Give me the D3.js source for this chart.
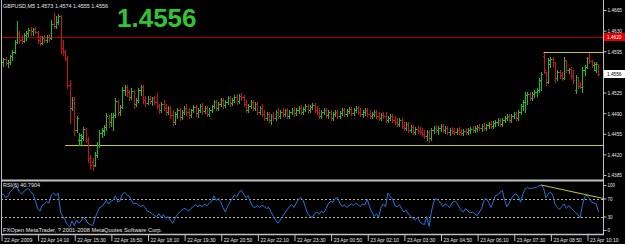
<!DOCTYPE html>
<html>
<head>
<meta charset="utf-8">
<script src="https://cdn.jsdelivr.net/npm/d3@7"></script>
<style>
  body { margin: 0; background: #000; }
  svg { display: block; }
  text { font-family: "Liberation Sans", Arial, sans-serif; }
</style>
</head>
<body>
<svg id="chart" width="625" height="244"></svg>
<script>
// GBPUSD M5 bars, 22 Apr 2009 12:50 -> 23 Apr 2009 10:35 (one entry per bar)
var opens = [
  1.4580,1.4577,1.4582,1.4575,1.4577,1.4587,1.4594,1.4611,1.4626,1.4614,
  1.4612,1.4623,1.4626,1.4631,1.4629,1.4633,1.4628,1.4614,1.4609,1.4618,
  1.4614,1.4619,1.4618,1.4641,1.4638,1.4645,1.4655,1.4601,1.4594,1.4584,
  1.4538,1.4499,1.4512,1.4461,1.4444,1.4444,1.4448,1.4463,1.4444,1.4414,
  1.4407,1.4402,1.4419,1.4436,1.4456,1.4460,1.4467,1.4482,1.4475,1.4483,
  1.4487,1.4511,1.4492,1.4500,1.4529,1.4534,1.4526,1.4517,1.4528,1.4506,
  1.4512,1.4529,1.4534,1.4512,1.4507,1.4514,1.4511,1.4516,1.4509,1.4502,
  1.4495,1.4506,1.4499,1.4492,1.4499,1.4487,1.4475,1.4489,1.4495,1.4483,
  1.4492,1.4499,1.4492,1.4487,1.4495,1.4500,1.4490,1.4495,1.4502,1.4494,
  1.4499,1.4489,1.4495,1.4502,1.4509,1.4499,1.4506,1.4512,1.4504,1.4509,
  1.4516,1.4507,1.4512,1.4517,1.4511,1.4519,1.4517,1.4506,1.4495,1.4502,
  1.4509,1.4499,1.4506,1.4492,1.4499,1.4489,1.4482,1.4489,1.4478,1.4485,
  1.4482,1.4492,1.4485,1.4492,1.4489,1.4495,1.4485,1.4492,1.4495,1.4490,
  1.4495,1.4499,1.4492,1.4497,1.4502,1.4495,1.4500,1.4504,1.4495,1.4492,
  1.4485,1.4492,1.4495,1.4487,1.4492,1.4482,1.4489,1.4492,1.4485,1.4490,
  1.4495,1.4489,1.4494,1.4497,1.4490,1.4495,1.4499,1.4492,1.4489,1.4492,
  1.4495,1.4489,1.4485,1.4489,1.4492,1.4485,1.4482,1.4487,1.4485,1.4478,
  1.4482,1.4485,1.4478,1.4475,1.4472,1.4478,1.4468,1.4465,1.4472,1.4461,
  1.4467,1.4458,1.4463,1.4460,1.4458,1.4455,1.4451,1.4458,1.4448,1.4461,
  1.4465,1.4461,1.4465,1.4468,1.4461,1.4465,1.4458,1.4461,1.4460,1.4458,
  1.4461,1.4458,1.4456,1.4460,1.4458,1.4461,1.4463,1.4461,1.4465,1.4467,
  1.4465,1.4468,1.4465,1.4470,1.4472,1.4468,1.4473,1.4475,1.4478,1.4472,
  1.4478,1.4482,1.4485,1.4478,1.4485,1.4489,1.4482,1.4492,1.4502,1.4509,
  1.4521,1.4523,1.4516,1.4523,1.4526,1.4529,1.4546,1.4587,1.4560,1.4543,
  1.4573,1.4582,1.4577,1.4550,1.4560,1.4555,1.4550,1.4580,1.4563,1.4565,
  1.4553,1.4529,1.4551,1.4536,1.4534,1.4563,1.4568,1.4584,1.4578,1.4572,
  1.4563,1.4573
];
var highs = [
  1.4585,1.4584,1.4585,1.4580,1.4589,1.4597,1.4614,1.4646,1.4629,1.4623,
  1.4626,1.4629,1.4635,1.4636,1.4635,1.4636,1.4629,1.4621,1.4621,1.4623,
  1.4623,1.4624,1.4648,1.4660,1.4655,1.4658,1.4657,1.4614,1.4597,1.4587,
  1.4546,1.4517,1.4517,1.4485,1.4456,1.4455,1.4467,1.4465,1.4450,1.4419,
  1.4414,1.4424,1.4441,1.4461,1.4465,1.4470,1.4490,1.4487,1.4490,1.4490,
  1.4516,1.4512,1.4504,1.4534,1.4538,1.4538,1.4529,1.4533,1.4529,1.4516,
  1.4533,1.4538,1.4538,1.4519,1.4519,1.4519,1.4517,1.4519,1.4524,1.4506,
  1.4509,1.4512,1.4506,1.4502,1.4502,1.4495,1.4492,1.4499,1.4499,1.4495,
  1.4502,1.4506,1.4499,1.4497,1.4504,1.4504,1.4499,1.4506,1.4507,1.4502,
  1.4502,1.4499,1.4504,1.4512,1.4512,1.4509,1.4516,1.4516,1.4512,1.4519,
  1.4519,1.4516,1.4521,1.4523,1.4523,1.4524,1.4521,1.4512,1.4506,1.4512,
  1.4512,1.4509,1.4509,1.4502,1.4506,1.4495,1.4492,1.4492,1.4489,1.4492,
  1.4495,1.4499,1.4495,1.4499,1.4497,1.4499,1.4495,1.4499,1.4500,1.4499,
  1.4502,1.4504,1.4500,1.4506,1.4506,1.4504,1.4507,1.4507,1.4502,1.4499,
  1.4495,1.4499,1.4499,1.4495,1.4495,1.4492,1.4495,1.4495,1.4494,1.4499,
  1.4499,1.4497,1.4500,1.4500,1.4499,1.4502,1.4502,1.4499,1.4495,1.4499,
  1.4499,1.4495,1.4492,1.4495,1.4495,1.4492,1.4490,1.4492,1.4492,1.4485,
  1.4489,1.4489,1.4485,1.4482,1.4482,1.4482,1.4475,1.4475,1.4475,1.4470,
  1.4470,1.4467,1.4468,1.4467,1.4465,1.4461,1.4461,1.4461,1.4465,1.4468,
  1.4470,1.4468,1.4472,1.4472,1.4468,1.4468,1.4465,1.4467,1.4465,1.4465,
  1.4467,1.4463,1.4463,1.4465,1.4465,1.4467,1.4468,1.4468,1.4470,1.4472,
  1.4472,1.4473,1.4472,1.4475,1.4477,1.4477,1.4478,1.4482,1.4482,1.4482,
  1.4485,1.4489,1.4489,1.4489,1.4492,1.4492,1.4495,1.4506,1.4512,1.4526,
  1.4526,1.4526,1.4526,1.4529,1.4533,1.4550,1.4560,1.4592,1.4560,1.4584,
  1.4585,1.4585,1.4577,1.4563,1.4563,1.4560,1.4585,1.4580,1.4567,1.4568,
  1.4563,1.4555,1.4551,1.4543,1.4568,1.4572,1.4585,1.4592,1.4580,1.4577,
  1.4577,1.4574
];
var lows = [
  1.4573,1.4570,1.4572,1.4568,1.4573,1.4580,1.4592,1.4609,1.4609,1.4609,
  1.4611,1.4614,1.4621,1.4623,1.4623,1.4626,1.4609,1.4606,1.4607,1.4611,
  1.4611,1.4612,1.4616,1.4635,1.4635,1.4641,1.4592,1.4589,1.4580,1.4533,
  1.4473,1.4495,1.4453,1.4458,1.4436,1.4436,1.4444,1.4441,1.4407,1.4397,
  1.4394,1.4400,1.4416,1.4433,1.4450,1.4453,1.4461,1.4467,1.4468,1.4461,
  1.4483,1.4487,1.4487,1.4499,1.4521,1.4519,1.4512,1.4514,1.4499,1.4502,
  1.4509,1.4521,1.4507,1.4502,1.4506,1.4507,1.4504,1.4506,1.4499,1.4490,
  1.4492,1.4495,1.4487,1.4489,1.4482,1.4470,1.4472,1.4482,1.4478,1.4480,
  1.4489,1.4487,1.4482,1.4483,1.4492,1.4485,1.4483,1.4492,1.4489,1.4490,
  1.4485,1.4485,1.4492,1.4499,1.4495,1.4495,1.4502,1.4499,1.4500,1.4506,
  1.4502,1.4504,1.4509,1.4506,1.4507,1.4512,1.4502,1.4492,1.4492,1.4499,
  1.4495,1.4495,1.4489,1.4489,1.4485,1.4478,1.4478,1.4475,1.4472,1.4478,
  1.4478,1.4482,1.4482,1.4485,1.4485,1.4482,1.4482,1.4489,1.4485,1.4487,
  1.4490,1.4489,1.4489,1.4494,1.4490,1.4492,1.4497,1.4492,1.4489,1.4482,
  1.4482,1.4489,1.4483,1.4482,1.4478,1.4478,1.4485,1.4482,1.4482,1.4487,
  1.4485,1.4485,1.4490,1.4487,1.4487,1.4492,1.4489,1.4485,1.4483,1.4487,
  1.4485,1.4482,1.4482,1.4485,1.4482,1.4478,1.4478,1.4482,1.4475,1.4475,
  1.4478,1.4475,1.4472,1.4468,1.4468,1.4465,1.4461,1.4461,1.4458,1.4458,
  1.4455,1.4455,1.4456,1.4455,1.4451,1.4448,1.4444,1.4441,1.4444,1.4456,
  1.4458,1.4455,1.4460,1.4458,1.4456,1.4455,1.4453,1.4456,1.4455,1.4455,
  1.4455,1.4453,1.4453,1.4455,1.4455,1.4456,1.4458,1.4458,1.4460,1.4461,
  1.4460,1.4461,1.4461,1.4465,1.4465,1.4465,1.4468,1.4470,1.4468,1.4468,
  1.4475,1.4478,1.4475,1.4475,1.4482,1.4478,1.4478,1.4489,1.4495,1.4492,
  1.4506,1.4512,1.4512,1.4517,1.4519,1.4526,1.4529,1.4558,1.4538,1.4541,
  1.4568,1.4570,1.4543,1.4546,1.4550,1.4546,1.4548,1.4560,1.4558,1.4550,
  1.4541,1.4524,1.4533,1.4533,1.4526,1.4555,1.4567,1.4575,1.4568,1.4563,
  1.4560,1.4555
];
var closes = [
  1.4577,1.4582,1.4575,1.4577,1.4587,1.4594,1.4611,1.4626,1.4614,1.4612,
  1.4623,1.4626,1.4631,1.4629,1.4633,1.4628,1.4614,1.4609,1.4618,1.4614,
  1.4619,1.4618,1.4641,1.4638,1.4645,1.4655,1.4601,1.4594,1.4584,1.4538,
  1.4499,1.4512,1.4461,1.4482,1.4453,1.4451,1.4463,1.4444,1.4414,1.4402,
  1.4400,1.4419,1.4436,1.4456,1.4461,1.4467,1.4485,1.4475,1.4483,1.4487,
  1.4511,1.4492,1.4500,1.4529,1.4534,1.4526,1.4517,1.4528,1.4506,1.4512,
  1.4529,1.4534,1.4512,1.4507,1.4514,1.4511,1.4516,1.4509,1.4502,1.4495,
  1.4506,1.4499,1.4492,1.4499,1.4487,1.4475,1.4489,1.4495,1.4483,1.4492,
  1.4499,1.4492,1.4487,1.4495,1.4500,1.4490,1.4495,1.4502,1.4494,1.4499,
  1.4489,1.4495,1.4502,1.4509,1.4499,1.4506,1.4512,1.4504,1.4509,1.4516,
  1.4507,1.4512,1.4517,1.4511,1.4519,1.4517,1.4506,1.4495,1.4502,1.4509,
  1.4499,1.4506,1.4492,1.4499,1.4489,1.4482,1.4489,1.4478,1.4485,1.4482,
  1.4492,1.4485,1.4492,1.4489,1.4495,1.4485,1.4492,1.4495,1.4490,1.4495,
  1.4499,1.4492,1.4497,1.4502,1.4495,1.4500,1.4504,1.4495,1.4492,1.4485,
  1.4492,1.4495,1.4487,1.4492,1.4482,1.4489,1.4492,1.4485,1.4490,1.4495,
  1.4489,1.4494,1.4497,1.4490,1.4495,1.4499,1.4492,1.4489,1.4492,1.4495,
  1.4489,1.4485,1.4489,1.4492,1.4485,1.4482,1.4487,1.4485,1.4478,1.4482,
  1.4485,1.4478,1.4475,1.4472,1.4478,1.4468,1.4465,1.4472,1.4461,1.4467,
  1.4458,1.4463,1.4460,1.4458,1.4455,1.4451,1.4458,1.4448,1.4461,1.4465,
  1.4461,1.4465,1.4468,1.4461,1.4465,1.4458,1.4461,1.4460,1.4458,1.4461,
  1.4458,1.4456,1.4460,1.4458,1.4461,1.4463,1.4461,1.4465,1.4467,1.4465,
  1.4468,1.4465,1.4470,1.4472,1.4468,1.4473,1.4475,1.4478,1.4472,1.4478,
  1.4482,1.4485,1.4478,1.4485,1.4489,1.4482,1.4492,1.4502,1.4509,1.4521,
  1.4523,1.4516,1.4523,1.4526,1.4529,1.4546,1.4556,1.4563,1.4543,1.4580,
  1.4582,1.4577,1.4550,1.4560,1.4555,1.4550,1.4580,1.4563,1.4565,1.4553,
  1.4546,1.4551,1.4536,1.4534,1.4563,1.4568,1.4584,1.4578,1.4572,1.4573,
  1.4573,1.4556
];
// RSI(6)
var rsi6 = [
  78,80,72,75,85,90,95,96,85,80,
  86,90,92,85,80,65,48,42,55,58,
  63,60,78,82,76,82,40,30,22,12,
  7,20,10,22,15,20,28,24,15,12,
  10,25,38,50,52,58,66,58,64,66,
  76,62,65,80,84,78,75,65,58,60,
  56,52,55,50,42,40,36,32,30,36,
  28,34,26,30,22,15,26,34,40,44,
  48,46,42,48,52,56,52,55,52,58,
  54,60,64,76,66,70,62,50,40,52,
  62,70,78,74,84,88,80,72,76,62,
  52,50,54,50,55,52,48,50,40,30,
  22,15,22,30,38,45,52,56,50,60,
  68,72,66,50,36,30,28,36,40,35,
  42,38,48,58,64,62,70,72,60,52,
  56,50,54,58,55,60,56,52,58,56,
  68,52,40,30,36,28,50,58,52,82,
  74,70,55,52,56,48,40,44,36,30,
  26,22,28,18,14,12,30,8,40,62,
  70,66,60,52,58,55,50,60,64,62,
  52,44,40,48,42,38,40,36,32,40,
  48,66,70,62,50,62,76,78,84,88,
  66,52,60,70,78,80,74,62,80,92,
  94,92,93,94,95,98,100,94,72,80,
  84,78,58,50,46,52,58,48,54,50,
  44,38,34,27,55,74,78,70,62,60,
  58,40.7904
];

var timeLabels = ["22 Apr 2009","22 Apr 14:10","22 Apr 15:30","22 Apr 16:50","22 Apr 18:10",
  "22 Apr 19:30","22 Apr 20:50","22 Apr 22:10","22 Apr 23:30","23 Apr 00:50","23 Apr 02:10",
  "23 Apr 03:30","23 Apr 04:50","23 Apr 06:10","23 Apr 07:30","23 Apr 08:50","23 Apr 10:10"];
var timeTickBars = [0,16,32,48,64,80,96,112,128,144,160,176,192,208,224,240,256];
// 1.4560 sits under the current-price box, so the terminal does not print it
var priceTicks = [1.4665,1.4630,1.4595,1.4525,1.4490,1.4455,1.4420,1.4385];
var rsiTicks = [100,70,30,0];
var rsiLevels = [70,30];
var redLevel = 1.4620;
var yellowLevels = [1.4593, 1.4436];
var yellowFrom = [237, 28];       // bar index where each yellow line starts
var rsiTrendBars = [236, 263.2];
var rsiTrendVals = [100, 70];
var lastPrice = 1.4556;
var header = "GBPUSD,M5  1.4573 1.4574 1.4555 1.4556";

var svg = d3.select("#chart");
var W = 625, H = 244;
var left = 1, right = 603, mainTop = 0, mainBottom = 180, rsiTop = 181, rsiBottom = 234;

var upColor = "#1ebe1e", downColor = "#d01010", frameColor = "#c0c0c0", textColor = "#e6e6e6";

svg.append("rect").attr("width", W).attr("height", H).attr("fill", "#000");

var xScale = d3.scaleLinear().domain([0, 256]).range([1, 587]);
var yPrice = d3.scaleLinear().domain([1.4385, 1.4665]).range([175, 10]);
var yRsi = d3.scaleLinear().domain([0, 100]).range([230, 185]);

var defs = svg.append("defs");
defs.append("clipPath").attr("id", "clipMain").append("rect")
  .attr("x", left).attr("y", mainTop).attr("width", right - left).attr("height", mainBottom - mainTop);
defs.append("clipPath").attr("id", "clipRsi").append("rect")
  .attr("x", left).attr("y", rsiTop).attr("width", right - left).attr("height", rsiBottom - rsiTop);

var main = svg.append("g").attr("clip-path", "url(#clipMain)");
var rsiG = svg.append("g").attr("clip-path", "url(#clipRsi)");

function px(v) { return Math.round(v) + 0.5; }

// horizontal levels
main.append("line")
  .attr("x1", left).attr("x2", right)
  .attr("y1", px(yPrice(redLevel))).attr("y2", px(yPrice(redLevel)))
  .attr("stroke", "#b00000").attr("stroke-width", 1);

main.selectAll("line.yl").data(yellowLevels).enter().append("line")
  .attr("class", "yl")
  .attr("x1", function(d, i) { return xScale(yellowFrom[i]); })
  .attr("x2", right)
  .attr("y1", function(d) { return px(yPrice(d)); })
  .attr("y2", function(d) { return px(yPrice(d)); })
  .attr("stroke", "#c8c820").attr("stroke-width", 1);

// OHLC bars
var bars = d3.range(closes.length).map(function(i) {
  return { i: i, o: opens[i], h: highs[i], l: lows[i], c: closes[i] };
});

main.selectAll("path.bar").data(bars).enter().append("path")
  .attr("class", "bar")
  .attr("d", function(d) {
    var x = px(xScale(d.i));
    return "M" + x + "," + (Math.round(yPrice(d.h))) + "V" + (Math.round(yPrice(d.l)) + 1) +
      "M" + (x - 1.5) + "," + px(yPrice(d.o)) + "H" + x +
      "M" + x + "," + px(yPrice(d.c)) + "H" + (x + 1.5);
  })
  .attr("fill", "none")
  .attr("stroke", function(d) { return d.c >= d.o ? upColor : downColor; })
  .attr("stroke-width", 1);

// RSI window
rsiG.selectAll("line.lvl").data(rsiLevels).enter().append("line")
  .attr("class", "lvl")
  .attr("x1", left).attr("x2", right)
  .attr("y1", function(d) { return px(yRsi(d)); })
  .attr("y2", function(d) { return px(yRsi(d)); })
  .attr("stroke", "#b4b49c").attr("stroke-dasharray", "2,2").attr("stroke-width", 1);

rsiG.append("path")
  .datum(rsi6)
  .attr("d", d3.line().x(function(d, i) { return xScale(i); }).y(function(d) { return yRsi(d); }))
  .attr("fill", "none").attr("stroke", "#2474d8").attr("stroke-width", 1);

rsiG.append("line")
  .attr("x1", xScale(rsiTrendBars[0])).attr("y1", yRsi(rsiTrendVals[0]))
  .attr("x2", xScale(rsiTrendBars[1])).attr("y2", yRsi(rsiTrendVals[1]))
  .attr("stroke", "#c8c820").attr("stroke-width", 1);

// frame
var frame = svg.append("g").attr("fill", "none").attr("stroke", frameColor);
frame.append("path").attr("d", "M1.5,0V" + rsiBottom).attr("stroke-width", 1);
frame.append("path").attr("d", "M" + (right + 0.5) + ",0V" + (rsiBottom + 1)).attr("stroke-width", 1);
frame.append("path").attr("d", "M1," + (mainBottom + 0.5) + "H" + (right + 1)).attr("stroke-width", 2);
frame.append("path").attr("d", "M1," + (rsiBottom + 0.5) + "H" + (right + 1)).attr("stroke-width", 1.5);

// price axis
var priceAxis = svg.append("g")
  .attr("transform", "translate(" + (right + 0.5) + ",0)")
  .call(d3.axisRight(yPrice).tickValues(priceTicks).tickSize(3).tickPadding(1).tickFormat(d3.format(".4f")));
priceAxis.select(".domain").remove();
priceAxis.selectAll("line").attr("stroke", frameColor);
priceAxis.selectAll("text")
  .attr("fill", textColor).attr("font-size", 6.2)
  .attr("textLength", 14.5).attr("lengthAdjust", "spacingAndGlyphs");

var rsiAxis = svg.append("g")
  .attr("transform", "translate(" + (right + 0.5) + ",0)")
  .call(d3.axisRight(yRsi).tickValues(rsiTicks).tickSize(3).tickPadding(1));
rsiAxis.select(".domain").remove();
rsiAxis.selectAll("line").attr("stroke", frameColor);
rsiAxis.selectAll("text")
  .attr("fill", textColor).attr("font-size", 6.2)
  .attr("textLength", function(d) { return String(d).length * 2.5; })
  .attr("lengthAdjust", "spacingAndGlyphs");

// time axis
var timeAxis = svg.append("g")
  .attr("transform", "translate(0," + (rsiBottom + 1) + ")")
  .call(d3.axisBottom(xScale).tickValues(timeTickBars).tickSize(6)
    .tickFormat(function(d, i) { return timeLabels[i]; }));
timeAxis.select(".domain").remove();
timeAxis.selectAll("line").attr("stroke", frameColor).attr("transform", "translate(0.5,0)");
timeAxis.selectAll("text")
  .attr("fill", textColor).attr("font-size", 6.2)
  .attr("text-anchor", "start").attr("x", 2.5).attr("y", 7).attr("dy", 0)
  .attr("textLength", 28.5).attr("lengthAdjust", "spacingAndGlyphs");

// current price boxes on the axis
function priceBox(v, bg, fg) {
  var y = yPrice(v);
  svg.append("rect").attr("x", right + 1).attr("y", Math.round(y) - 4).attr("width", W - right - 1).attr("height", 8).attr("fill", bg);
  svg.append("text").attr("x", right + 4).attr("y", y).attr("dy", "0.33em")
    .attr("fill", fg).attr("font-size", 6.2)
    .attr("textLength", 14.5).attr("lengthAdjust", "spacingAndGlyphs")
    .text(d3.format(".4f")(v));
}
priceBox(redLevel, "#e00000", "#ffffff");
priceBox(lastPrice, "#ffffff", "#000000");

// labels
svg.append("text").attr("x", 3).attr("y", 8).attr("fill", textColor).attr("font-size", 6.2)
  .attr("textLength", 105).attr("lengthAdjust", "spacingAndGlyphs").text(header);

svg.append("text").attr("x", 117).attr("y", 27).attr("fill", "#33c433")
  .attr("font-size", 26).attr("font-weight", "bold").text(d3.format(".4f")(lastPrice));

svg.append("text").attr("x", 3).attr("y", 187).attr("fill", textColor).attr("font-size", 6.2)
  .attr("textLength", 37).attr("lengthAdjust", "spacingAndGlyphs")
  .text("RSI(6) " + rsi6[rsi6.length - 1].toFixed(4));

svg.append("text").attr("x", 3).attr("y", 232).attr("fill", textColor).attr("font-size", 6.2)
  .attr("textLength", 159).attr("lengthAdjust", "spacingAndGlyphs")
  .text("FXOpen MetaTrader, ? 2001-2008 MetaQuotes Software Corp.");
</script>
</body>
</html>
